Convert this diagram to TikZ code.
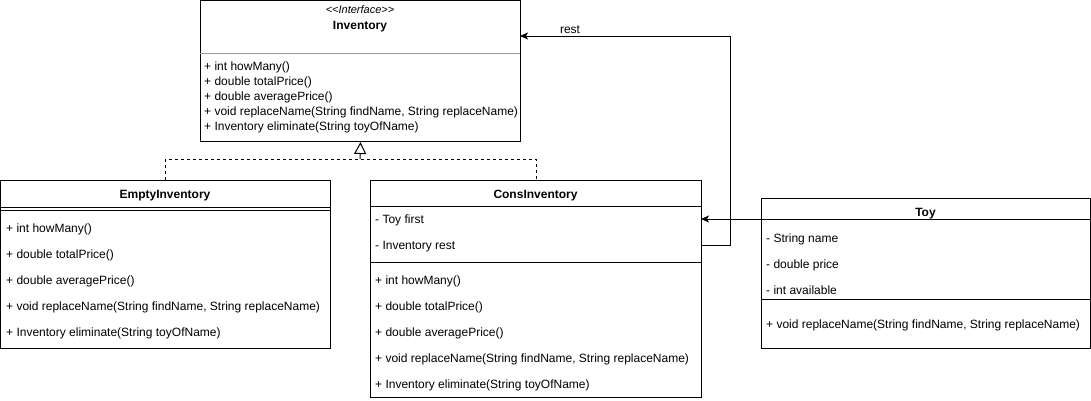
\documentclass[tikz,border=0pt]{standalone}
\usepackage{fontspec}
\setmainfont{Liberation Sans}
\usetikzlibrary{arrows.meta}
\begin{document}
\begin{tikzpicture}[x=1pt,y=-1pt,
  box/.style={draw, line width=1pt, anchor=north west, inner sep=0pt},
  sep/.style={line width=1pt},
  gsep/.style={line width=1pt, draw=black!40},
  txt/.style={anchor=base west, yshift=-4.3pt, inner sep=0pt, font=\fontsize{12}{14}\selectfont},
  title/.style={anchor=base, yshift=-4.3pt, inner sep=0pt, font=\fontsize{12}{14}\selectfont\bfseries},
  stereo/.style={anchor=base, yshift=-3.8pt, inner sep=0pt, font=\fontsize{11}{13}\selectfont\itshape},
  conn/.style={line width=1pt},
  assoc/.style={conn, -{Stealth[length=8pt,width=7pt,inset=2pt]}},
  realize/.style={conn, dash pattern=on 3pt off 3pt},
  inh/.style={conn, -{Triangle[open,length=12pt,width=12pt]}}]
\useasboundingbox (0,0) rectangle (1091,400);

% Inventory interface
\node[box, minimum width=320pt, minimum height=141pt] (inv) at (200,0) {};
\node[stereo] (invst) at (360,10) {{<}{<}Interface{>}{>}};
\node[title] (invt) at (360,25) {Inventory};
\draw[gsep] (200,53) -- (520,53);
\node[txt] (inv1) at (204,66) {+ int howMany()};
\node[txt] (inv2) at (204,81) {+ double totalPrice()};
\node[txt] (inv3) at (204,96) {+ double averagePrice()};
\node[txt] (inv4) at (204,111) {+ void replaceName(String findName, String replaceName)};
\node[txt] (inv5) at (204,126) {+ Inventory eliminate(String toyOfName)};

% EmptyInventory
\node[box, minimum width=330pt, minimum height=168pt] (empty) at (0,180) {};
\node[title] (emptyt) at (165,194) {EmptyInventory};
\draw[sep] (0,207) -- (330,207);
\draw[sep] (0,210) -- (330,210);
\node[txt] (e1) at (6,228) {+ int howMany()};
\node[txt] (e2) at (6,254) {+ double totalPrice()};
\node[txt] (e3) at (6,280) {+ double averagePrice()};
\node[txt] (e4) at (6,306) {+ void replaceName(String findName, String replaceName)};
\node[txt] (e5) at (6,332) {+ Inventory eliminate(String toyOfName)};

% ConsInventory
\node[box, minimum width=331pt, minimum height=217pt] (cons) at (370,180) {};
\node[title] (const) at (535.5,194) {ConsInventory};
\draw[sep] (370,206) -- (701,206);
\node[txt] (c1) at (375,219) {- Toy first};
\node[txt] (c2) at (375,245) {- Inventory rest};
\draw[sep] (370,262) -- (701,262);
\node[txt] (c3) at (375,280) {+ int howMany()};
\node[txt] (c4) at (375,306) {+ double totalPrice()};
\node[txt] (c5) at (375,332) {+ double averagePrice()};
\node[txt] (c6) at (375,358) {+ void replaceName(String findName, String replaceName)};
\node[txt] (c7) at (375,384) {+ Inventory eliminate(String toyOfName)};

% Toy
\node[box, minimum width=329pt, minimum height=150pt] (toy) at (761,198) {};
\node[title] (toyt) at (925.5,212) {Toy};
\draw[sep] (761,219) -- (1090,219);
\node[txt] (t1) at (766,238) {- String name};
\node[txt] (t2) at (766,264) {- double price};
\node[txt] (t3) at (766,290) {- int available};
\draw[sep] (761,299) -- (1090,299);
\node[txt] (t4) at (766,324) {+ void replaceName(String findName, String replaceName)};

% Realization
\coordinate (junc) at (360,159);
\draw[realize] (empty.north) |- (junc) -| (cons.north);
\draw[inh] (junc) -- (inv.south);

% Associations
\coordinate (toyA) at (761,219);
\coordinate (consA) at (701,219);
\draw[assoc] (toyA) -- (consA);
\coordinate (consR) at (701,245);
\coordinate (bend) at (730,245);
\coordinate (invR) at (520,36);
\draw[assoc] (consR) -- (bend) |- (invR);
\node[txt, anchor=base] (restl) at (570,29) {rest};
\end{tikzpicture}
\end{document}
